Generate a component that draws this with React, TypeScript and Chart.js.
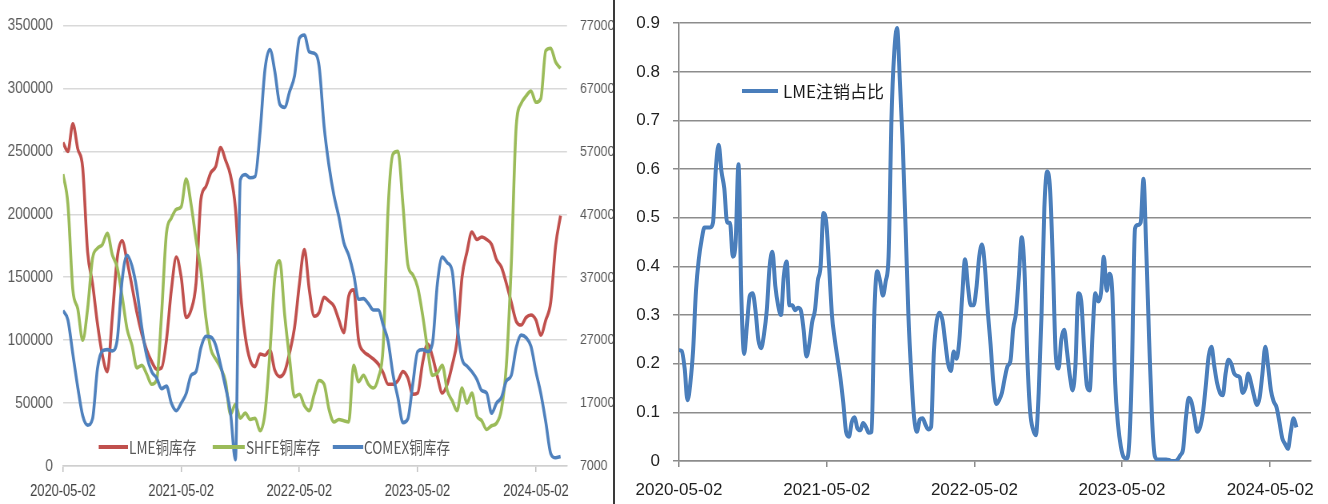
import React, { useEffect, useRef } from 'react';
import { Chart, registerables } from 'chart.js';

Chart.register(...registerables);

// ---------- data ----------
const xTickLabels = ['2020-05-02', '2021-05-02', '2022-05-02', '2023-05-02', '2024-05-02'];
const xTickDays = [0, 365, 730, 1095, 1461];
const halfMonthStepDays = 365.25 / 24;
const weekStepDays = 7;

const stockSeriesNames = ['LME铜库存', 'SHFE铜库存', 'COMEX铜库存'];
const ratioSeriesName = 'LME注销占比';

const leftAxisTicks = [0, 50000, 100000, 150000, 200000, 250000, 300000, 350000];
const rightAxisTicks = [7000, 17000, 27000, 37000, 47000, 57000, 67000, 77000];
const ratioAxisTicks = [0, 0.1, 0.2, 0.3, 0.4, 0.5, 0.6, 0.7, 0.8, 0.9];

// half-monthly, from 2020-05-02
const lmeStock = [
  257000, 250000, 272000, 252000, 237000, 170000, 145000, 113000, 88000, 75000,
  118000, 165000, 179000, 163000, 143000, 122000, 105000, 92000, 83000, 77000,
  78000, 100000, 140000, 166000, 150000, 118000, 124000, 145000, 212000, 222000,
  233000, 238000, 253000, 243000, 231000, 205000, 140000, 103000, 84000, 79000,
  89000, 88000, 92000, 76000, 71000, 75000, 90000, 110000, 145000, 172000,
  140000, 119000, 122000, 134000, 131000, 127000, 116000, 106000, 135000, 140000,
  100000, 91000, 88000, 85000, 81000, 74000, 65000, 65000, 68000, 75000,
  70000, 57000, 58000, 82000, 97000, 87000, 71000, 58000, 65000, 80000,
  100000, 150000, 170000, 186000, 180000, 182000, 180000, 176000, 164000, 158000,
  145000, 130000, 115000, 112000, 118000, 120000, 116000, 104000, 116000, 130000,
  175000, 199000,
];

const shfeStock = [
  232000, 208000, 140000, 125000, 100000, 125000, 165000, 173000, 176000, 185000,
  168000, 158000, 135000, 109000, 96000, 78000, 80000, 73000, 65000, 68000,
  120000, 185000, 197000, 204000, 206000, 228000, 208000, 180000, 155000, 118000,
  93000, 85000, 78000, 67000, 41000, 49000, 38000, 42000, 37000, 38000,
  28000, 42000, 90000, 150000, 163000, 120000, 85000, 55000, 57000, 48000,
  44000, 57000, 68000, 65000, 45000, 35000, 37000, 36000, 35000, 80000,
  67000, 72000, 65000, 62000, 70000, 95000, 205000, 248000, 250000, 208000,
  160000, 152000, 142000, 120000, 93000, 72000, 74000, 80000, 60000, 52000,
  44000, 62000, 50000, 58000, 40000, 36000, 29000, 32000, 34000, 45000,
  80000, 160000, 270000, 288000, 294000, 298000, 289000, 292000, 330000, 332000,
  321000, 316000,
];

const comexStock = [
  31700, 30200, 24800, 19500, 15000, 13500, 14500, 22500, 25300, 25500,
  25300, 27000, 36500, 40500, 38800, 35000, 29000, 24500, 22000, 21000,
  19300, 19700, 17000, 15800, 17000, 18500, 21400, 22000, 25800, 27600,
  27500, 26200, 23000, 19500, 15500, 8000, 52500, 53300, 52800, 53000,
  60000, 70000, 73200, 69700, 64500, 64000, 66500, 69000, 75000, 75500,
  72800, 72600, 70500, 61000, 54700, 50000, 46600, 42500, 40500, 37500,
  33500, 33600, 32800, 31800, 31800, 29400, 26800, 21500, 17800, 13900,
  14500, 20000, 25200, 25500, 25200, 26500, 36000, 40200, 39300, 38000,
  29500, 24000, 22900, 22000, 20800, 19000, 18600, 15400, 17000, 17900,
  20500, 21400, 25800, 27800, 27400, 26000, 22000, 18500, 14000, 9000,
  8300, 8500,
];

// weekly, from 2020-05-02
const lmeCancelRatio = [
  0.228, 0.226, 0.19, 0.125, 0.16, 0.23, 0.35, 0.415, 0.455, 0.48,
  0.48, 0.48, 0.49, 0.6, 0.65, 0.595, 0.56, 0.49, 0.49, 0.42,
  0.45, 0.61, 0.34, 0.22, 0.28, 0.34, 0.345, 0.31, 0.25, 0.232,
  0.26, 0.31, 0.4, 0.43, 0.36, 0.32, 0.3, 0.38, 0.41, 0.32,
  0.32, 0.31, 0.315, 0.31, 0.27, 0.215, 0.24, 0.285, 0.31, 0.37,
  0.4, 0.51, 0.49, 0.4, 0.3, 0.25, 0.21, 0.17, 0.12, 0.06,
  0.05, 0.08, 0.09, 0.067, 0.063, 0.078, 0.07, 0.058, 0.06, 0.31,
  0.39, 0.37, 0.34, 0.37, 0.42, 0.7, 0.84, 0.89, 0.78, 0.65,
  0.48, 0.3, 0.18, 0.09, 0.06, 0.085, 0.088, 0.075, 0.065, 0.07,
  0.225, 0.288, 0.305, 0.29, 0.245, 0.2, 0.185, 0.225, 0.21, 0.25,
  0.34, 0.415, 0.36, 0.32, 0.32, 0.355, 0.42, 0.445, 0.4, 0.31,
  0.24, 0.16, 0.117, 0.125, 0.14, 0.17, 0.195, 0.205, 0.272, 0.305,
  0.38, 0.46, 0.39, 0.21, 0.1, 0.065, 0.053, 0.14, 0.3, 0.52,
  0.595, 0.56, 0.41, 0.22, 0.19, 0.25, 0.27, 0.225, 0.175, 0.145,
  0.2, 0.345, 0.33, 0.235, 0.155, 0.145, 0.259, 0.345, 0.328, 0.345,
  0.42, 0.35, 0.385, 0.345, 0.16, 0.075, 0.03, 0.008, 0.005, 0.04,
  0.21, 0.478, 0.485, 0.49, 0.58, 0.43, 0.25, 0.09, 0.01, 0.003,
  0.003, 0.003, 0.003, 0.002, 0, 0, 0.003, 0.012, 0.025, 0.09,
  0.13, 0.12, 0.09, 0.06, 0.07, 0.1, 0.155, 0.215, 0.235, 0.195,
  0.16, 0.14, 0.135, 0.18, 0.208, 0.2, 0.18, 0.175, 0.172, 0.14,
  0.15, 0.18, 0.16, 0.135, 0.115, 0.13, 0.18, 0.235, 0.195, 0.145,
  0.122, 0.11, 0.08, 0.047, 0.035, 0.025, 0.06, 0.088, 0.069,
];

// ---------- styles ----------
const stockColors = ['#C0504D', '#9BBB59', '#4F81BD'];
const ratioColor = '#4A7EBB';
const plainFamily = '"Liberation Sans", Arial, sans-serif';
const cjkFamily = '"Noto Sans CJK SC", "Noto Sans", sans-serif';

// the left panel is drawn wide and squeezed horizontally (like the source image)
const squeeze = 0.8;
const leftPanelWidth = 613;
const leftCanvasWidth = Math.round(leftPanelWidth / squeeze);

const toPoints = (values: number[], step: number) => values.map((v, i) => ({ x: i * step, y: v }));

const fixedTicks = (vals: number[]) => (scale: any) => {
  scale.ticks = vals.map((v) => ({ value: v }));
};

function StockChart() {
  const ref = useRef<HTMLCanvasElement>(null);
  useEffect(() => {
    if (!ref.current) return;
    const series = [lmeStock, shfeStock, comexStock];
    const chart = new Chart(ref.current, {
      type: 'line',
      data: {
        datasets: series.map((vals, k) => ({
          label: stockSeriesNames[k],
          data: toPoints(vals, halfMonthStepDays),
          borderColor: stockColors[k],
          backgroundColor: stockColors[k],
          borderWidth: 3.6,
          pointRadius: 0,
          cubicInterpolationMode: 'monotone' as const,
          yAxisID: k === 2 ? 'y1' : 'y',
          order: 2 - k,
        })),
      },
      options: {
        responsive: false,
        animation: false,
        events: [],
        layout: { padding: { top: 19, left: 0, right: 0, bottom: 0 } },
        plugins: { legend: { display: false }, tooltip: { enabled: false } },
        scales: {
          x: {
            type: 'linear',
            min: 0,
            max: 1557,
            afterBuildTicks: fixedTicks(xTickDays),
            afterFit: (s: any) => { s.height = 38; },
            ticks: {
              autoSkip: false,
              maxRotation: 0,
              padding: 10,
              color: '#404040',
              font: { family: plainFamily, size: 16 },
              callback: (_v: any, i: number) => xTickLabels[i],
            },
            grid: { drawOnChartArea: false, tickLength: 6, color: '#bfbfbf', lineWidth: 1.5 },
            border: { color: '#cfcfcf', width: 1.5 },
          },
          y: {
            position: 'left',
            min: 0,
            max: 350000,
            afterBuildTicks: fixedTicks(leftAxisTicks),
            afterFit: (s: any) => { s.width = 63 / squeeze; },
            ticks: {
              padding: 10 / squeeze,
              color: '#595959',
              font: { family: plainFamily, size: 17 },
              callback: (v: any) => String(v),
            },
            grid: { color: '#d9d9d9', lineWidth: 1.5, drawTicks: false },
            border: { display: false },
          },
          y1: {
            position: 'right',
            min: 7000,
            max: 77000,
            afterBuildTicks: fixedTicks(rightAxisTicks),
            afterFit: (s: any) => { s.width = leftCanvasWidth - 567 / squeeze; },
            ticks: {
              padding: 13 / squeeze,
              color: '#595959',
              font: { family: plainFamily, size: 15.5 },
              callback: (v: any) => String(v),
            },
            grid: { display: false, drawTicks: false },
            border: { display: false },
          },
        },
      },
    });
    return () => chart.destroy();
  }, []);
  return (
    <canvas
      ref={ref}
      width={leftCanvasWidth}
      height={504}
      style={{ width: leftCanvasWidth, height: 504, display: 'block' }}
    />
  );
}

function RatioChart() {
  const ref = useRef<HTMLCanvasElement>(null);
  useEffect(() => {
    if (!ref.current) return;
    const chart = new Chart(ref.current, {
      type: 'line',
      data: {
        datasets: [
          {
            label: ratioSeriesName,
            data: toPoints(lmeCancelRatio, weekStepDays),
            borderColor: ratioColor,
            backgroundColor: ratioColor,
            borderWidth: 4,
            pointRadius: 0,
            cubicInterpolationMode: 'monotone' as const,
          },
        ],
      },
      options: {
        responsive: false,
        animation: false,
        events: [],
        layout: { padding: { top: 16, left: 0, right: 17, bottom: 0 } },
        plugins: { legend: { display: false }, tooltip: { enabled: false } },
        scales: {
          x: {
            type: 'linear',
            min: 0,
            max: 1562,
            afterBuildTicks: fixedTicks(xTickDays),
            afterFit: (s: any) => { s.height = 43; },
            ticks: {
              autoSkip: false,
              maxRotation: 0,
              padding: 13,
              color: '#1f1f1f',
              font: { family: plainFamily, size: 17 },
              callback: (_v: any, i: number) => xTickLabels[i],
            },
            grid: { drawOnChartArea: false, tickLength: 6, color: '#8c8c8c', lineWidth: 1.5 },
            border: { color: '#8c8c8c', width: 1.5 },
          },
          y: {
            min: 0,
            max: 0.9,
            afterBuildTicks: fixedTicks(ratioAxisTicks),
            afterFit: (s: any) => { s.width = 64; },
            ticks: {
              padding: 13,
              color: '#1f1f1f',
              font: { family: plainFamily, size: 17 },
              callback: (v: any) => (v === 0 ? '0' : Number(v).toFixed(1)),
            },
            grid: { color: '#8c8c8c', lineWidth: 1.5, tickLength: 6 },
            border: { color: '#8c8c8c', width: 1.5 },
          },
        },
      },
    });
    return () => chart.destroy();
  }, []);
  return <canvas ref={ref} width={713} height={504} style={{ width: 713, height: 504, display: 'block' }} />;
}

// legend placement in the (unsqueezed) left canvas coordinates
const stockLegendLayout = [
  { lineLeft: 98, lineWidth: 30, textLeft: 129 },
  { lineLeft: 213, lineWidth: 32, textLeft: 246 },
  { lineLeft: 333, lineWidth: 30, textLeft: 364 },
];

export default function App() {
  return (
    <div
      style={{
        position: 'fixed',
        left: 0,
        top: 0,
        width: 1328,
        height: 504,
        background: '#ffffff',
        overflow: 'hidden',
      }}
    >
      <div style={{ position: 'absolute', left: 0, top: 0, width: leftPanelWidth, height: 504, overflow: 'hidden' }}>
        <div
          style={{
            position: 'absolute',
            left: 0,
            top: 0,
            width: leftCanvasWidth,
            height: 504,
            transform: `scaleX(${squeeze})`,
            transformOrigin: '0 0',
          }}
        >
          <StockChart />
          {stockSeriesNames.map((name, k) => (
            <React.Fragment key={name}>
              <div
                style={{
                  position: 'absolute',
                  left: stockLegendLayout[k].lineLeft / squeeze,
                  top: 445,
                  width: stockLegendLayout[k].lineWidth / squeeze,
                  height: 4,
                  background: stockColors[k],
                }}
              />
              <span
                style={{
                  position: 'absolute',
                  left: stockLegendLayout[k].textLeft / squeeze,
                  top: 447,
                  transform: 'translateY(-50%)',
                  fontFamily: cjkFamily,
                  fontSize: 17,
                  lineHeight: '20px',
                  color: '#595959',
                  whiteSpace: 'nowrap',
                }}
              >
                {name}
              </span>
            </React.Fragment>
          ))}
        </div>
      </div>
      <div style={{ position: 'absolute', left: 613, top: 0, width: 2, height: 504, background: '#3a3a3a' }} />
      <div style={{ position: 'absolute', left: 615, top: 0, width: 713, height: 504 }}>
        <RatioChart />
        <div style={{ position: 'absolute', left: 127, top: 89, width: 36, height: 4, background: ratioColor }} />
        <span
          style={{
            position: 'absolute',
            left: 168,
            top: 91,
            transform: 'translateY(-50%)',
            fontFamily: cjkFamily,
            fontSize: 17,
            lineHeight: '20px',
            color: '#1a1a1a',
            whiteSpace: 'nowrap',
          }}
        >
          {ratioSeriesName}
        </span>
      </div>
    </div>
  );
}
